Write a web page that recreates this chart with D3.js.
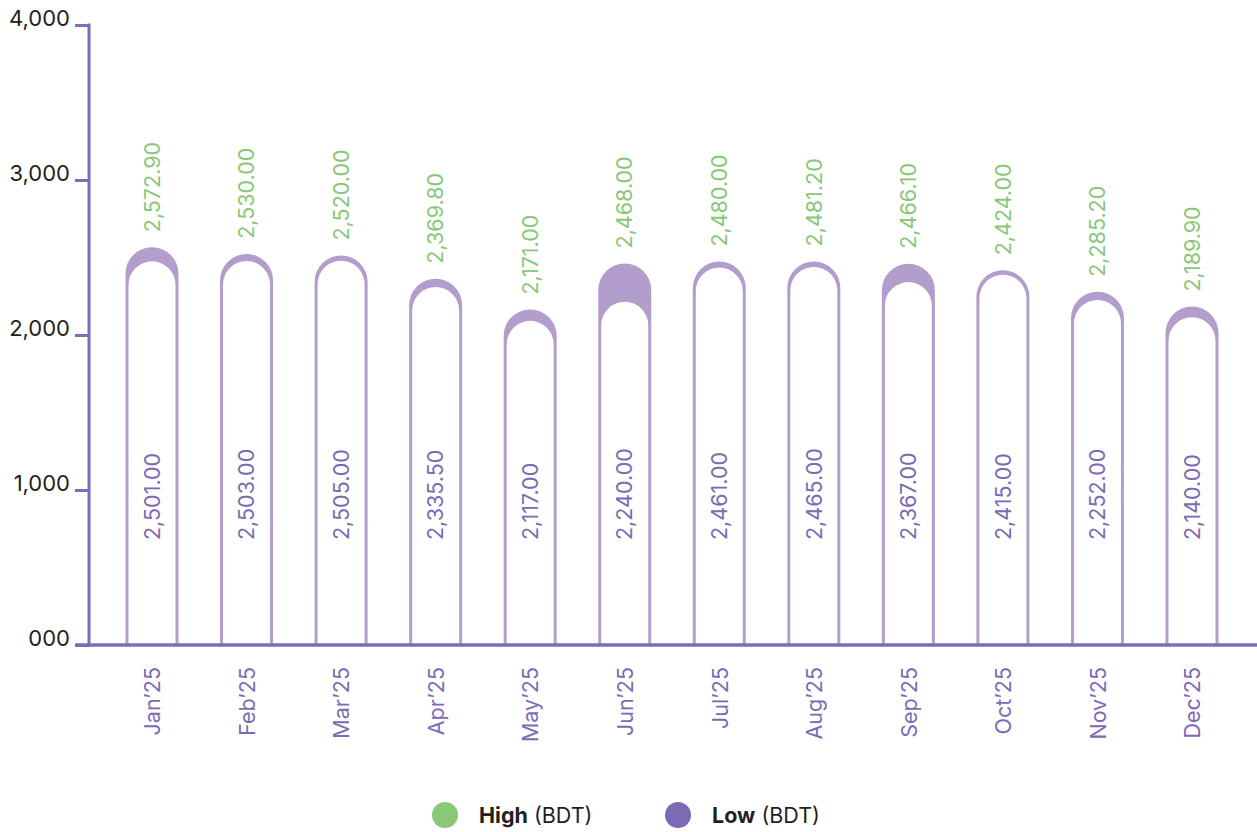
<!DOCTYPE html>
<html>
<head>
<meta charset="utf-8">
<script src="https://cdn.jsdelivr.net/npm/d3@7"></script>
<style>
  html, body { margin: 0; padding: 0; background: #fff; }
  svg { display: block; font-family: "Inter", "Noto Sans", sans-serif; }
</style>
</head>
<body>
<svg id="chart" width="1257" height="832"></svg>
<script>
const months = ["Jan’25","Feb’25","Mar’25","Apr’25","May’25","Jun’25","Jul’25","Aug’25","Sep’25","Oct’25","Nov’25","Dec’25"];
const highValues = [2572.90, 2530.00, 2520.00, 2369.80, 2171.00, 2468.00, 2480.00, 2481.20, 2466.10, 2424.00, 2285.20, 2189.90];
const lowValues  = [2501.00, 2503.00, 2505.00, 2335.50, 2117.00, 2240.00, 2461.00, 2465.00, 2367.00, 2415.00, 2252.00, 2140.00];
const yTickValues = [0, 1000, 2000, 3000, 4000];
const yTickLabels = ["000", "1,000", "2,000", "3,000", "4,000"];
const legendItems = [{ bold: "High", rest: " (BDT)", key: "high" }, { bold: "Low", rest: " (BDT)", key: "low" }];

const C = {
  axis: "#7d6db8",
  barFill: "#b39dcc",
  green: "#88c878",
  purple: "#7b6bb5",
  text: "#231f20"
};
const FONT = "Inter, 'Noto Sans', sans-serif";

const svg = d3.select("#chart");
const y = d3.scaleLinear().domain([0, 4000]).range([645, 25]);
const x = d3.scalePoint().domain(months).range([152, 1192]);
const barW = 53, inset = 3;
const fmt = d3.format(",.2f");

function capsule(x0, x1, yt, yb) {
  const r = (x1 - x0) / 2;
  return `M${x0},${yb} L${x0},${yt + r} A${r},${r} 0 0 1 ${x1},${yt + r} L${x1},${yb} Z`;
}

const data = months.map((m, i) => ({ m, high: highValues[i], low: lowValues[i] }));

const bars = svg.append("g").selectAll("g").data(data).join("g");
bars.append("path")
  .attr("d", d => capsule(x(d.m) - barW / 2, x(d.m) + barW / 2, y(d.high) + 1, y(0)))
  .attr("fill", C.barFill);
bars.append("path")
  .attr("d", d => capsule(x(d.m) - barW / 2 + inset, x(d.m) + barW / 2 - inset, y(d.low) + inset + 1, y(0)))
  .attr("fill", "#fff");

// high labels
bars.append("text")
  .attr("transform", d => `translate(${x(d.m)},${y(d.high) - 14}) rotate(-90)`)
  .attr("text-anchor", "start")
  .attr("dy", "0.36em")
  .attr("font-size", 21.5)
  .attr("fill", C.green)
  .text(d => fmt(d.high));

// low labels
bars.append("text")
  .attr("transform", d => `translate(${x(d.m)},540) rotate(-90)`)
  .attr("text-anchor", "start")
  .attr("dy", "0.36em")
  .attr("font-size", 21.5)
  .attr("fill", C.purple)
  .text(d => fmt(d.low));

// y axis
const yAxis = d3.axisLeft(y)
  .tickValues(yTickValues)
  .tickFormat((d, i) => yTickLabels[i])
  .tickSize(14)
  .tickSizeOuter(0)
  .tickPadding(5);
const gy = svg.append("g").attr("transform", "translate(89,0)").call(yAxis);
gy.select(".domain").remove();
gy.selectAll(".tick line").attr("stroke", C.axis).attr("stroke-width", 3);
gy.selectAll(".tick text")
  .attr("fill", C.text)
  .attr("font-size", 22)
  .attr("dy", "0em")
  .attr("font-family", FONT);
svg.append("line")
  .attr("x1", 89).attr("x2", 89)
  .attr("y1", y(4000) - 1.5).attr("y2", y(0) + 2)
  .attr("stroke", C.axis).attr("stroke-width", 3);

// x axis
const xAxis = d3.axisBottom(x).tickSize(0).tickPadding(0);
const gx = svg.append("g").attr("transform", `translate(0,${y(0)})`).call(xAxis);
gx.select(".domain").remove();
gx.selectAll(".tick text")
  .attr("transform", "translate(0,22) rotate(-90)")
  .attr("text-anchor", "end")
  .attr("dy", "0.36em")
  .attr("y", 0)
  .attr("x", 0)
  .attr("font-size", 21.5)
  .attr("fill", C.purple)
  .attr("font-family", FONT);
svg.append("line")
  .attr("x1", 75).attr("x2", 1257)
  .attr("y1", y(0)).attr("y2", y(0))
  .attr("stroke", C.axis).attr("stroke-width", 3.5);

// legend
const legendX = [445, 678];
const lg = svg.append("g").selectAll("g").data(legendItems).join("g")
  .attr("transform", (d, i) => `translate(${legendX[i]},815)`);
lg.append("circle").attr("r", 13).attr("fill", d => d.key === "high" ? C.green : C.purple);
const lt = lg.append("text").attr("x", 34).attr("y", 8).attr("font-size", 21.5).attr("fill", C.text);
lt.append("tspan").attr("font-weight", "bold").text(d => d.bold);
lt.append("tspan").text(d => d.rest);
</script>
</body>
</html>
